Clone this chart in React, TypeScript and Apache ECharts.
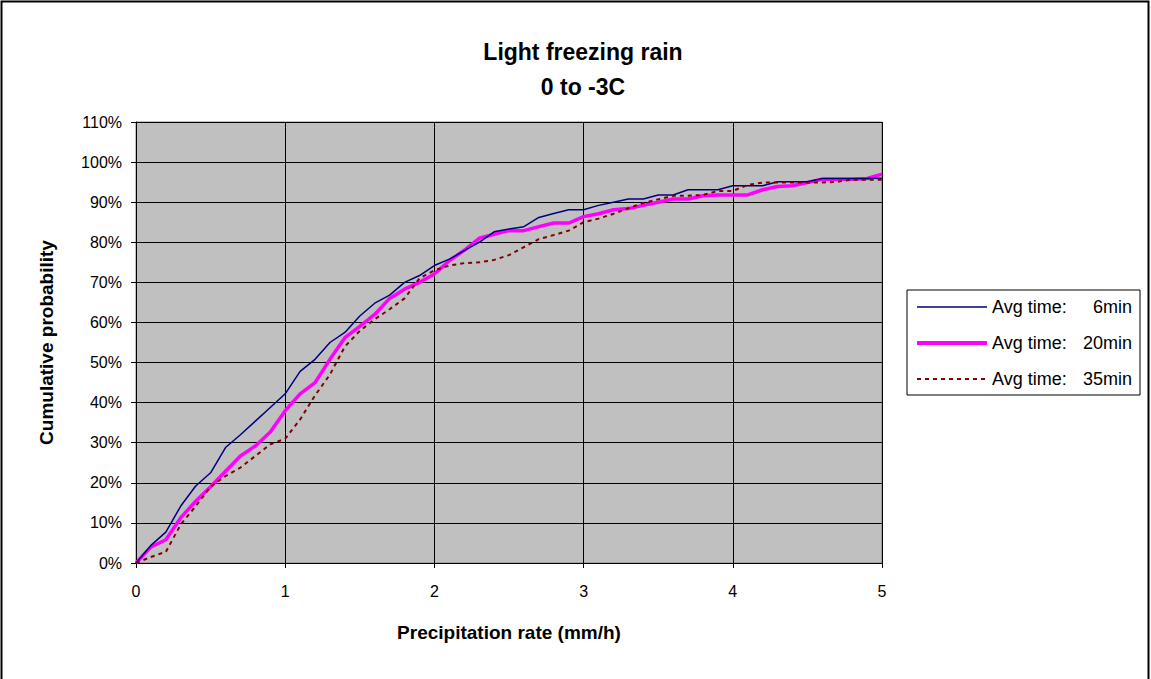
import React, { useEffect, useRef } from "react";
import * as echarts from "echarts";

const xValues = [
  0, 0.1, 0.2, 0.3, 0.4, 0.5, 0.6, 0.7, 0.8, 0.9,
  1, 1.1, 1.2, 1.3, 1.4, 1.5, 1.6, 1.7, 1.8, 1.9,
  2, 2.1, 2.2, 2.3, 2.4, 2.5, 2.6, 2.7, 2.8, 2.9,
  3, 3.1, 3.2, 3.3, 3.4, 3.5, 3.6, 3.7, 3.8, 3.9,
  4, 4.1, 4.2, 4.3, 4.4, 4.5, 4.6, 4.7, 4.8, 4.9, 5,
];

const avg6min = [
  0, 4.4, 7.7, 14.2, 19.2, 22.5, 28.8, 32, 35.4, 38.8,
  42.2, 47.8, 50.8, 55, 57.5, 61.6, 64.8, 66.8, 70, 71.7,
  74.2, 75.8, 77.9, 80, 82.6, 83.3, 83.9, 86.2, 87.2, 88.1,
  88.1, 89.2, 90, 90.8, 90.8, 91.8, 91.8, 93.1, 93.1, 93.1,
  94.1, 94.1, 94.1, 95.1, 95.1, 95.1, 95.9, 95.9, 95.9, 95.9, 96,
];

const avg20min = [
  0, 4, 5.8, 11.3, 15.4, 19, 22.9, 26.7, 29.2, 32.7,
  38, 42.2, 45, 50.8, 56.2, 59, 62, 66, 68.3, 70,
  72.1, 75.4, 78, 81, 82, 82.9, 82.9, 83.9, 84.8, 84.8,
  86.4, 87.1, 88.1, 88.4, 89.2, 90, 90.8, 90.8, 91.6, 91.8,
  91.8, 91.8, 93.1, 93.9, 94.1, 94.9, 95.7, 95.7, 95.7, 95.9, 97,
];

const avg35min = [
  0, 1.5, 2.8, 9.6, 14.2, 19, 21.7, 23.8, 26.7, 29.6,
  31, 35.8, 41.8, 47, 54, 57.9, 60.8, 63.3, 66, 71,
  73, 74.2, 74.8, 75, 75.6, 76.8, 78.8, 80.8, 81.8, 82.9,
  85, 85.9, 87.1, 88.5, 89.8, 90.7, 91.6, 91.6, 91.8, 92.8,
  92.8, 94.3, 94.9, 94.9, 94.9, 94.9, 94.9, 95.1, 95.6, 95.6, 95.6,
];

const seriesNames = ["Avg time:  6min", "Avg time:  20min", "Avg time:  35min"];
const titleLines = ["Light freezing rain", "0 to -3C"];
const xAxisName = "Precipitation rate (mm/h)";
const yAxisName = "Cumulative probability";

const FONT = "'Liberation Sans', Arial, sans-serif";

export default function App() {
  const ref = useRef<HTMLDivElement>(null);

  useEffect(() => {
    if (!ref.current) return;
    const chart = echarts.init(ref.current, undefined, { renderer: "svg" });
    const pair = (arr: number[]) => xValues.map((x, i) => [x, arr[i]]);

    chart.setOption({
      animation: false,
      backgroundColor: "#ffffff",
      textStyle: { fontFamily: FONT, color: "#000" },
      graphic: [
        {
          type: "rect",
          shape: { x: 1.5, y: 1.5, width: 1147, height: 720 },
          style: { fill: "none", stroke: "#000", lineWidth: 2 },
          silent: true,
        },
        {
          type: "text",
          x: 583,
          y: 52,
          style: {
            text: titleLines[0],
            fill: "#000",
            font: `bold 23px ${FONT}`,
            textAlign: "center",
            textVerticalAlign: "middle",
          },
        },
        {
          type: "text",
          x: 583,
          y: 87,
          style: {
            text: titleLines[1],
            fill: "#000",
            font: `bold 23px ${FONT}`,
            textAlign: "center",
            textVerticalAlign: "middle",
          },
        },
      ],
      grid: {
        left: 136,
        top: 122,
        width: 746,
        height: 441,
        show: true,
        backgroundColor: "#C0C0C0",
        borderColor: "#808080",
        borderWidth: 1,
      },
      legend: {
        orient: "vertical",
        left: 907,
        top: 290,
        width: 232,
        padding: [8, 8, 7, 8],
        itemWidth: 70,
        itemHeight: 14,
        itemGap: 18,
        borderColor: "#000",
        borderWidth: 1,
        backgroundColor: "#fff",
        data: [
          { name: seriesNames[0], lineStyle: { width: 1.5 } },
          { name: seriesNames[1], lineStyle: { width: 4 } },
          { name: seriesNames[2], lineStyle: { width: 2 } },
        ],
        itemStyle: { opacity: 0 },
        formatter: (name: string) => {
          const parts = name.split(":");
          return `{a|${parts[0]}:}{b|${parts[1].trim()}}`;
        },
        textStyle: {
          fontFamily: FONT,
          fontSize: 18,
          color: "#000",
          rich: {
            a: { fontFamily: FONT, fontSize: 18, color: "#000", width: 90 },
            b: { fontFamily: FONT, fontSize: 18, color: "#000", width: 50, align: "right" },
          },
        },
      },
      xAxis: {
        type: "value",
        min: 0,
        max: 5,
        interval: 1,
        name: xAxisName,
        nameLocation: "middle",
        nameGap: 60,
        nameTextStyle: { fontFamily: FONT, fontSize: 19, fontWeight: "bold", color: "#000" },
        axisLine: { show: true, onZero: false, lineStyle: { color: "#000", width: 1 } },
        axisTick: { show: true, length: 5, lineStyle: { color: "#000" } },
        axisLabel: { fontFamily: FONT, fontSize: 16, color: "#000", margin: 20 },
        splitLine: { show: true, lineStyle: { color: "#000", width: 1 } },
      },
      yAxis: {
        type: "value",
        min: 0,
        max: 110,
        interval: 10,
        name: yAxisName,
        nameLocation: "middle",
        nameGap: 80,
        nameTextStyle: { fontFamily: FONT, fontSize: 19, fontWeight: "bold", color: "#000" },
        axisLine: { show: true, lineStyle: { color: "#000", width: 1 } },
        axisTick: { show: true, length: 5, lineStyle: { color: "#000" } },
        axisLabel: { fontFamily: FONT, fontSize: 16, color: "#000", margin: 14, formatter: "{value}%" },
        splitLine: { show: true, lineStyle: { color: "#000", width: 1 } },
      },
      series: [
        {
          name: seriesNames[0],
          type: "line",
          data: pair(avg6min),
          symbol: "none",
          z: 3,
          lineStyle: { color: "#000080", width: 1.5 },
          itemStyle: { color: "#000080" },
        },
        {
          name: seriesNames[1],
          type: "line",
          data: pair(avg20min),
          symbol: "none",
          z: 2,
          lineStyle: { color: "#FF00FF", width: 3.5 },
          itemStyle: { color: "#FF00FF" },
        },
        {
          name: seriesNames[2],
          type: "line",
          data: pair(avg35min),
          symbol: "none",
          z: 4,
          lineStyle: { color: "#800000", width: 2, type: [4, 4] },
          itemStyle: { color: "#800000" },
        },
      ],
    });

    return () => chart.dispose();
  }, []);

  return (
    <div style={{ position: "fixed", left: 0, top: 0, width: 1151, height: 679, background: "#fff" }}>
      <div ref={ref} style={{ width: 1151, height: 679 }} />
    </div>
  );
}
